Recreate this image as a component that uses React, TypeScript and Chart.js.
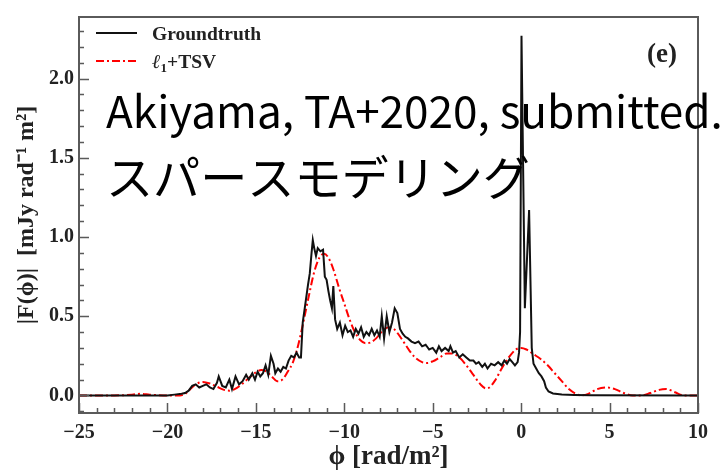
import { useEffect, useRef } from "react";
import { Chart, registerables } from "chart.js";

Chart.register(...registerables);

// Faraday depth axis (rad/m^2) and |F(phi)| amplitudes (mJy rad^-1 m^2)
const TRUTH_PHI = [
  -25, -20, -19.6, -19.2, -19.0, -18.8, -18.6, -18.4, -18.2, -18.0, -17.8, -17.6, -17.4, -17.2,
  -17.1, -16.9, -16.7, -16.5, -16.35, -16.15, -15.95, -15.75, -15.55, -15.4, -15.2, -15.05,
  -14.9, -14.75, -14.6, -14.45, -14.3, -14.15, -14.0, -13.9, -13.75, -13.6, -13.45, -13.3,
  -13.15, -13.0, -12.85, -12.7, -12.55, -12.45, -12.35, -12.2, -12.05, -11.95, -11.85, -11.78,
  -11.7, -11.6, -11.5, -11.35, -11.2, -11.1, -11.0, -10.9, -10.8, -10.7, -10.62, -10.52, -10.4,
  -10.25, -10.1, -9.95, -9.8, -9.65, -9.5, -9.35, -9.2, -9.05, -8.9, -8.75, -8.6, -8.45, -8.3,
  -8.15, -8.0, -7.88, -7.75, -7.6, -7.45, -7.3, -7.15, -7.0, -6.85, -6.7, -6.55, -6.4, -6.2,
  -6.0, -5.8, -5.6, -5.4, -5.2, -5.0, -4.8, -4.65, -4.5, -4.3, -4.1, -4.0, -3.85, -3.7, -3.5,
  -3.3, -3.1, -2.9, -2.7, -2.55, -2.4, -2.2, -2.05, -1.9, -1.7, -1.5, -1.3, -1.1, -0.95, -0.8,
  -0.65, -0.5, -0.35, -0.2, -0.12, -0.06, 0.02, 0.21, 0.45, 0.6, 0.7, 0.85, 1.0, 1.15, 1.3, 1.4,
  1.55, 1.8, 2.3, 3.0, 4.0, 10,
];
const TRUTH_F = [
  0, 0, 0.005, 0.01, 0.015, 0.03, 0.06, 0.07, 0.05, 0.06, 0.07, 0.05, 0.04, 0.08,
  0.12, 0.06, 0.05, 0.1, 0.04, 0.12, 0.07, 0.09, 0.13, 0.1, 0.14, 0.1,
  0.15, 0.12, 0.14, 0.19, 0.13, 0.25, 0.2, 0.14, 0.17, 0.15, 0.18, 0.17,
  0.22, 0.25, 0.24, 0.27, 0.24, 0.24, 0.46, 0.58, 0.7, 0.77, 0.9, 0.98,
  0.93, 0.88, 0.93, 0.91, 0.92, 0.75, 0.73, 0.66, 0.6, 0.55, 0.69, 0.48, 0.42,
  0.46, 0.38, 0.44, 0.4, 0.41, 0.37, 0.42, 0.39, 0.43, 0.37, 0.4, 0.38, 0.42, 0.38,
  0.41, 0.37, 0.5, 0.36, 0.5, 0.4, 0.46, 0.55, 0.52, 0.42, 0.39, 0.37, 0.36, 0.34,
  0.33, 0.34, 0.31, 0.32, 0.29, 0.3, 0.27, 0.31, 0.28, 0.3, 0.28, 0.31, 0.27, 0.28, 0.24,
  0.26, 0.24, 0.22, 0.22, 0.2, 0.21, 0.18, 0.2, 0.17, 0.2, 0.19, 0.21, 0.19, 0.22, 0.2,
  0.23, 0.21, 0.19, 0.21, 0.27, 0.4, 2.27, 0.55, 1.17, 0.3, 0.2, 0.17, 0.14, 0.12, 0.09, 0.05,
  0.025, 0.012, 0.006, 0.003, 0.001, 0,
];

const RECON_PHI = [
  -25, -23, -22, -21.5, -21, -20, -19.3, -19.0, -18.7, -18.4, -18.0, -17.6, -17.2, -16.8, -16.5,
  -16.2, -15.8, -15.4, -15.0, -14.7, -14.4, -14.1, -13.8, -13.5, -13.2, -12.9, -12.6, -12.3,
  -12.0, -11.7, -11.4, -11.15, -10.9, -10.6, -10.3, -10.0, -9.7, -9.4, -9.1, -8.8, -8.5, -8.2,
  -7.9, -7.5, -7.2, -6.9, -6.6, -6.3, -6.0, -5.6, -5.3, -5.0, -4.6, -4.2, -3.9, -3.5, -3.1,
  -2.7, -2.3, -2.0, -1.8, -1.5, -1.1, -0.7, -0.3, 0.0, 0.3, 0.7, 1.1, 1.5, 1.9, 2.3, 2.7, 3.1,
  3.4, 3.8, 4.3, 4.8, 5.3, 5.8, 6.3, 6.8, 7.3, 7.8, 8.2, 8.7, 9.2, 10,
];
const RECON_F = [
  0, 0, 0.005, 0.01, 0.005, 0, 0, 0.01, 0.04, 0.07, 0.085, 0.075, 0.055, 0.035, 0.03,
  0.04, 0.07, 0.11, 0.145, 0.16, 0.15, 0.12, 0.09, 0.1, 0.15, 0.21, 0.32, 0.47,
  0.63, 0.78, 0.87, 0.895, 0.87, 0.79, 0.68, 0.58, 0.48, 0.4, 0.35, 0.33, 0.335, 0.36,
  0.4, 0.43, 0.42, 0.38, 0.33, 0.28, 0.24, 0.21, 0.205, 0.215, 0.24, 0.265, 0.265, 0.24, 0.19,
  0.13, 0.07, 0.045, 0.05, 0.09, 0.17, 0.24, 0.29, 0.3, 0.29, 0.26, 0.23, 0.19, 0.14, 0.09, 0.04, 0.01,
  0, 0.01, 0.04, 0.05, 0.04, 0.015, 0, 0, 0.015, 0.035, 0.04, 0.02, 0, 0,
];

const X_TICKS = [-25, -20, -15, -10, -5, 0, 5, 10];
const Y_TICKS = [0, 0.5, 1.0, 1.5, 2.0];
const SERIES_LABELS = ["Groundtruth", "+TSV"];
const PANEL_TAG = "(e)";
const NOTE_LINES = ["Akiyama, TA+2020, submitted.", "スパースモデリング"];

const X_MIN = -25;
const X_MAX = 10;
const Y_MIN = -0.111;
const Y_MAX = 2.389;

const SERIF = '"Liberation Serif", "Times New Roman", serif';
const SANS = '"Noto Sans CJK JP", "Noto Sans", sans-serif';
const FRAME = "#5a5a5a";
const RED_DASH = [8, 3, 2, 3];

const framePlugin = {
  id: "frame",
  afterDatasetsDraw(chart: any) {
    const { ctx, chartArea: a, scales } = chart;
    const xs = scales.x;
    const ys = scales.y;
    ctx.save();
    ctx.strokeStyle = FRAME;
    ctx.lineWidth = 1.5;
    // inward tick marks, minor every 1 rad/m^2 and every 0.1 in amplitude
    ctx.beginPath();
    for (let v = X_MIN; v <= X_MAX; v += 1) {
      const px = Math.round(xs.getPixelForValue(v)) + 0.5;
      const len = X_TICKS.includes(v) ? 10 : 5;
      ctx.moveTo(px, a.bottom);
      ctx.lineTo(px, a.bottom - len);
    }
    for (let i = -1; i <= 23; i++) {
      const v = i / 10;
      const py = Math.round(ys.getPixelForValue(v)) + 0.5;
      const len = i % 5 === 0 ? 10 : 5;
      ctx.moveTo(a.left, py);
      ctx.lineTo(a.left + len, py);
    }
    ctx.stroke();
    ctx.lineWidth = 2;
    ctx.strokeRect(a.left, a.top, a.right - a.left, a.bottom - a.top);
    ctx.restore();
  },
  afterDraw(chart: any) {
    const { ctx } = chart;
    ctx.save();
    // legend
    ctx.lineWidth = 2;
    ctx.strokeStyle = "#111";
    ctx.beginPath();
    ctx.moveTo(96, 33);
    ctx.lineTo(137, 33);
    ctx.stroke();
    ctx.strokeStyle = "#ff0000";
    ctx.setLineDash(RED_DASH);
    ctx.beginPath();
    ctx.moveTo(96, 61);
    ctx.lineTo(137, 61);
    ctx.stroke();
    ctx.setLineDash([]);

    ctx.fillStyle = "#222";
    ctx.textBaseline = "alphabetic";
    ctx.textAlign = "left";
    ctx.font = `bold 19.5px ${SERIF}`;
    ctx.fillText(SERIES_LABELS[0], 152, 40);
    ctx.font = `italic bold 20px ${SERIF}`;
    ctx.fillText("ℓ", 152, 68);
    let x = 152 + ctx.measureText("ℓ").width;
    ctx.font = `bold 13px ${SERIF}`;
    ctx.fillText("1", x, 72);
    x += ctx.measureText("1").width;
    ctx.font = `bold 19.5px ${SERIF}`;
    ctx.fillText(SERIES_LABELS[1], x, 68);

    // panel tag
    ctx.font = `bold 27px ${SERIF}`;
    ctx.textAlign = "center";
    ctx.fillText(PANEL_TAG, 662, 62);

    // annotation overlay
    ctx.fillStyle = "#000";
    ctx.textAlign = "left";
    const fit = (text: string, width: number, base: number) => {
      ctx.font = `${base}px ${SANS}`;
      const w = ctx.measureText(text).width;
      return (base * width) / w;
    };
    const s1 = fit(NOTE_LINES[0], 617, 40);
    ctx.font = `${s1}px ${SANS}`;
    ctx.fillText(NOTE_LINES[0], 106, 128);
    const s2 = fit(NOTE_LINES[1], 424, 47);
    ctx.font = `${s2}px ${SANS}`;
    ctx.textBaseline = "middle";
    ctx.fillText(NOTE_LINES[1], 106, 177);
    ctx.restore();
  },
};

export default function App() {
  const ref = useRef<HTMLCanvasElement>(null);

  useEffect(() => {
    const tickFont = { family: SERIF, weight: "bold" as const, size: 20 };
    const chart = new Chart(ref.current!, {
      type: "line",
      data: {
        datasets: [
          {
            label: "Groundtruth",
            data: TRUTH_PHI.map((p, i) => ({ x: p, y: TRUTH_F[i] })),
            borderColor: "#111",
            borderWidth: 2,
            pointRadius: 0,
            tension: 0,
          },
          {
            label: "l1+TSV",
            data: RECON_PHI.map((p, i) => ({ x: p, y: RECON_F[i] })),
            borderColor: "#ff0000",
            borderWidth: 2,
            borderDash: RED_DASH,
            pointRadius: 0,
            cubicInterpolationMode: "monotone",
          },
        ],
      },
      options: {
        animation: false,
        responsive: false,
        layout: { padding: { left: 0, top: 8, right: 28, bottom: 0 } },
        plugins: { legend: { display: false }, tooltip: { enabled: false } },
        scales: {
          x: {
            type: "linear",
            min: X_MIN,
            max: X_MAX,
            afterBuildTicks: (s: any) => {
              s.ticks = X_TICKS.map((v) => ({ value: v }));
            },
            afterFit: (s: any) => {
              s.height = 62;
            },
            grid: { display: false, drawTicks: false },
            border: { display: false },
            ticks: {
              font: tickFont,
              color: "#222",
              padding: 8,
              maxRotation: 0,
              callback: (v: any) => (v < 0 ? "\u2212" + Math.abs(v) : String(v)),
            },
            title: {
              display: true,
              text: "ϕ [rad/m²]",
              color: "#222",
              font: { family: SERIF, weight: "bold", size: 27 },
              padding: { top: 0, bottom: 2 },
            },
          },
          y: {
            type: "linear",
            min: Y_MIN,
            max: Y_MAX,
            afterBuildTicks: (s: any) => {
              s.ticks = Y_TICKS.map((v) => ({ value: v }));
            },
            afterFit: (s: any) => {
              s.width = 79;
            },
            grid: { display: false, drawTicks: false },
            border: { display: false },
            ticks: {
              font: tickFont,
              color: "#222",
              padding: 5,
              callback: (v: any) => Number(v).toFixed(1),
            },
            title: {
              display: true,
              text: "|F(ϕ)|  [mJy rad⁻¹ m²]",
              color: "#222",
              font: { family: SERIF, weight: "bold", size: 24 },
              padding: { top: 12, bottom: 0 },
            },
          },
        },
      },
      plugins: [framePlugin],
    });
    return () => chart.destroy();
  }, []);

  return (
    <div style={{ position: "fixed", left: 0, top: 0, width: 726, height: 475, background: "#fff" }}>
      <canvas ref={ref} width={726} height={475} />
    </div>
  );
}
